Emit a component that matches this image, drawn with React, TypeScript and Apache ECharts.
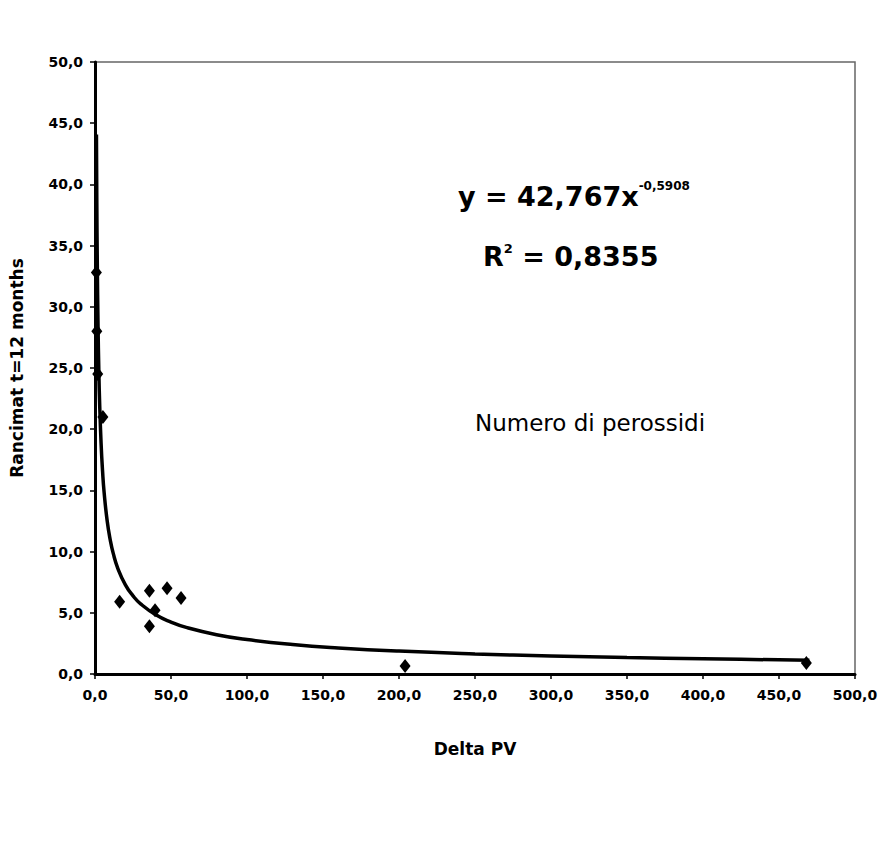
import React, { useEffect, useRef } from "react";
import * as echarts from "echarts";

const deltaPV = [0.9, 1.2, 1.8, 5.2, 16.2, 35.8, 47.4, 56.6, 39.5, 35.8, 204, 468];
const rancimat = [32.8, 28.0, 24.5, 21.0, 5.9, 6.8, 7.0, 6.2, 5.2, 3.9, 0.65, 0.9];
const xTicks = [0, 50, 100, 150, 200, 250, 300, 350, 400, 450, 500];
const yTicks = [0, 5, 10, 15, 20, 25, 30, 35, 40, 45, 50];
const fitA = 42.767;
const fitB = -0.5908;
const fitR2 = "0,8355";
const fitX = [0.95, 1.2, 1.5, 2, 2.5, 3, 4, 5, 6, 8, 10, 12, 15, 20, 25, 30, 40, 50, 60, 80, 100, 130, 160, 200, 250, 300, 350, 400, 450, 470];

const fmt = (v: number) => v.toFixed(1).replace(".", ",");

export default function App() {
  const ref = useRef<HTMLDivElement>(null);
  useEffect(() => {
    const chart = echarts.init(ref.current!, undefined, { renderer: "svg" });
    const font = "'DejaVu Sans', sans-serif";
    chart.setOption({
      animation: false,
      backgroundColor: "#ffffff",
      grid: { left: 91, top: 62, right: 39, bottom: 169, show: true, borderColor: "#666", borderWidth: 1.5 },
      xAxis: {
        type: "value",
        min: xTicks[0],
        max: xTicks[xTicks.length - 1],
        interval: 50,
        name: "Delta PV",
        nameLocation: "middle",
        nameGap: 66,
        nameTextStyle: { fontFamily: font, fontWeight: "bold", fontSize: 17, color: "#000" },
        axisLine: { show: true, lineStyle: { color: "#000", width: 3 } },
        axisTick: { show: true, length: 5, lineStyle: { color: "#000", width: 1.5 } },
        axisLabel: { formatter: (v: number) => fmt(v), fontFamily: font, fontWeight: "bold", fontSize: 14, color: "#000", margin: 14 },
        splitLine: { show: false },
      },
      yAxis: {
        type: "value",
        min: yTicks[0],
        max: yTicks[yTicks.length - 1],
        interval: 5,
        name: "Rancimat t=12 months",
        nameLocation: "middle",
        nameGap: 70,
        nameTextStyle: { fontFamily: font, fontWeight: "bold", fontSize: 17, color: "#000" },
        axisLine: { show: true, lineStyle: { color: "#000", width: 3 } },
        axisTick: { show: true, length: 5, lineStyle: { color: "#000", width: 1.5 } },
        axisLabel: { formatter: (v: number) => fmt(v), fontFamily: font, fontWeight: "bold", fontSize: 14, color: "#000", margin: 12 },
        splitLine: { show: false },
      },
      series: [
        {
          type: "line",
          data: fitX.map((x) => [x, fitA * Math.pow(x, fitB)]),
          showSymbol: false,
          smooth: true,
          lineStyle: { color: "#000", width: 3.5 },
          z: 2,
        },
        {
          type: "scatter",
          data: deltaPV.map((x, i) => [x, rancimat[i]]),
          symbol: "diamond",
          symbolSize: [11, 14],
          itemStyle: { color: "#000", opacity: 1 },
          z: 3,
        },
      ],
      graphic: [
        {
          type: "text",
          left: 458,
          top: 180,
          style: {
            text: "{m|y = " + String(fitA).replace(".", ",") + "x}{s|" + String(fitB).replace(".", ",") + "}",
            rich: {
              m: { fontFamily: font, fontWeight: "bold", fontSize: 27, fill: "#000", verticalAlign: "bottom" },
              s: { fontFamily: font, fontWeight: "bold", fontSize: 12, fill: "#000", verticalAlign: "top", padding: [0, 0, 18, 0] },
            },
          },
        },
        {
          type: "text",
          left: 483,
          top: 242,
          style: {
            text: "{m|R}{s|2}{m| = " + fitR2 + "}",
            rich: {
              m: { fontFamily: font, fontWeight: "bold", fontSize: 27, fill: "#000" },
              s: { fontFamily: font, fontWeight: "bold", fontSize: 13, fill: "#000", padding: [0, 0, 16, 0] },
            },
          },
        },
        {
          type: "text",
          left: 475,
          top: 411,
          style: { text: "Numero di perossidi", fontFamily: "'DejaVu Sans', sans-serif", fontSize: 23, fill: "#000" },
        },
      ],
    });
    return () => chart.dispose();
  }, []);
  return <div ref={ref} style={{ width: 894, height: 843, margin: -8 }} />;
}
